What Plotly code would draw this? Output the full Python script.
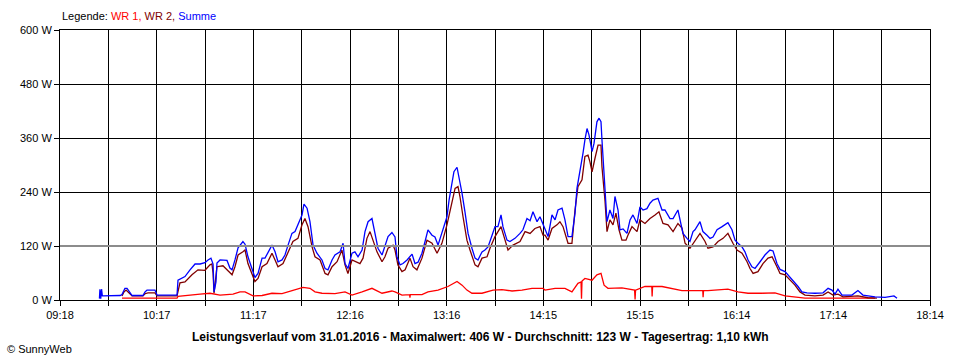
import plotly.graph_objects as go

# ---- data (time in minutes after midnight, power in W) ----
t_sum = [582.3, 582.6, 583.1, 583.6, 584.1, 584.5, 595.0, 596.2, 597.4, 598.0, 599.3, 600.5, 602.4, 609.1, 610.4, 611.6,
         616.5, 617.8, 630.1, 630.7, 633.2, 635.0, 638.1, 641.2, 644.3, 647.3, 649.2, 651.0, 652.3, 652.9, 654.1, 654.7,
         656.6, 660.9, 662.7, 664.0, 665.8, 667.7, 670.7, 672.0, 673.8, 676.3, 678.1, 680.0, 682.5, 684.3, 686.1, 688.6,
         690.5, 692.3, 694.8, 696.6, 698.5, 700.9, 702.8, 704.6, 707.1, 708.3, 710.2, 712.0, 713.9, 716.3, 719.4, 721.3,
         723.1, 725.6, 727.4, 730.5, 732.4, 733.6, 735.4, 737.9, 739.7, 741.6, 744.1, 745.9, 747.8, 750.2, 752.1, 753.9,
         756.4, 758.2, 760.1, 762.5, 764.4, 765.6, 767.5, 769.3, 771.8, 774.9, 776.7, 778.6, 781.0, 782.9, 784.7, 787.2,
         789.0, 790.9, 792.1, 794.0, 796.4, 797.7, 799.5, 800.7, 802.6, 803.8, 805.7, 807.5, 809.4, 811.8, 813.7, 815.5,
         818.0, 819.8, 821.7, 824.2, 826.0, 827.8, 829.7, 830.9, 833.4, 835.2, 838.3, 841.4, 843.2, 845.7, 847.6, 849.4,
         851.9, 853.7, 855.6, 856.8, 858.7, 861.1, 863.0, 864.8, 867.3, 869.1, 871.0, 873.4, 875.3, 876.5, 878.4, 880.2,
         881.4, 882.7, 883.9, 885.8, 887.0, 888.8, 890.1, 891.3, 891.9, 893.2, 894.4, 895.0, 896.8, 898.7, 899.9, 901.8,
         903.0, 904.9, 907.3, 909.2, 911.0, 913.5, 915.3, 917.2, 919.6, 921.5, 923.3, 926.4, 928.9, 930.7, 933.8, 935.7,
         938.7, 940.0, 941.8, 944.3, 946.1, 948.0, 949.2, 952.3, 954.1, 956.6, 958.5, 960.3, 962.8, 965.9, 969.5, 972.0,
         973.9, 975.7, 978.2, 980.0, 981.9, 984.3, 986.2, 989.3, 992.3, 995.4, 997.3, 999.7, 1001.6, 1004.7, 1006.5,
         1009.6, 1012.7, 1015.1, 1018.2, 1023.1, 1028.1, 1031.2, 1033.6, 1035.5, 1037.3, 1039.8, 1045.9, 1049.6, 1052.7,
         1060.1, 1066.3, 1071.8, 1073.7]
summe = [3, 24, 3, 24, 9, 9, 10, 12, 22, 26, 26, 20, 10, 10, 18, 22,
         22, 11, 11, 44, 49, 52, 67, 80, 80, 83, 89, 93, 80, 18, 40, 82,
         89, 88, 71, 67, 89, 116, 130, 124, 96, 67, 50, 59, 93, 93, 104, 122,
         107, 85, 89, 100, 122, 148, 152, 167, 189, 213, 204, 174, 122, 104, 89, 70,
         67, 89, 100, 107, 126, 81, 70, 104, 107, 96, 111, 152, 174, 181, 144, 115,
         100, 118, 141, 150, 140, 96, 78, 81, 89, 102, 81, 84, 104, 130, 156, 144,
         140, 122, 137, 156, 185, 222, 259, 285, 295, 274, 237, 196, 148, 115, 93, 89,
         107, 111, 118, 144, 163, 163, 189, 163, 133, 130, 137, 148, 156, 181, 176, 196,
         174, 185, 167, 159, 141, 189, 178, 200, 204, 178, 141, 141, 193, 248, 285, 326,
         356, 381, 367, 330, 348, 396, 404, 396, 356, 281, 230, 174, 200, 181, 230, 200,
         156, 158, 148, 178, 189, 170, 207, 200, 203, 215, 222, 226, 200, 200, 181, 181,
         200, 178, 148, 137, 130, 152, 156, 174, 152, 144, 137, 140, 156, 163, 172, 156,
         133, 126, 118, 107, 89, 74, 70, 85, 100, 111, 109, 81, 68, 63, 56,
         44, 30, 18, 16, 15, 16, 26, 22, 13, 24, 11, 11, 21, 11,
         7, 6, 9, 4]

t_wr2 = [596.2, 597.4, 598.7, 599.9, 602.4, 609.1, 610.4, 612.2, 616.5, 617.8, 630.1, 631.9, 635.0, 639.3, 643.0, 647.3,
         650.4, 651.6, 652.3, 652.9, 654.1, 654.7, 658.4, 661.5, 664.0, 665.8, 667.7, 670.7, 672.0, 673.8, 676.3, 678.1,
         680.0, 682.5, 685.5, 688.6, 690.5, 692.3, 695.4, 698.5, 701.5, 704.6, 707.1, 708.9, 710.8, 713.3, 715.1, 718.2,
         721.3, 723.1, 725.6, 728.7, 731.7, 733.6, 735.4, 737.9, 741.0, 742.8, 744.7, 747.1, 749.0, 750.8, 753.3, 756.4,
         758.2, 760.1, 763.2, 764.4, 766.2, 768.7, 770.6, 773.6, 775.5, 777.9, 781.0, 784.1, 787.2, 790.3, 793.3, 796.4,
         799.5, 801.4, 803.2, 804.4, 806.3, 808.7, 810.6, 813.7, 815.5, 818.0, 821.1, 822.9, 826.0, 829.7, 832.2, 834.0,
         837.1, 841.4, 844.5, 847.6, 850.6, 853.7, 855.6, 856.8, 858.7, 861.1, 864.2, 866.0, 867.9, 871.0, 873.4, 875.3,
         877.1, 879.6, 881.4, 883.3, 884.5, 885.8, 887.6, 889.5, 891.3, 891.9, 893.8, 895.0, 896.8, 898.7, 900.5, 902.4,
         904.2, 906.7, 907.9, 910.4, 913.5, 915.3, 918.4, 921.5, 924.6, 927.0, 929.5, 932.6, 935.7, 938.7, 941.2, 943.1,
         946.1, 948.0, 949.2, 952.3, 955.4, 957.2, 960.3, 963.4, 966.5, 969.5, 972.6, 975.1, 978.2, 981.3, 983.1, 985.0,
         988.0, 991.1, 994.2, 996.7, 999.7, 1001.6, 1004.7, 1007.7, 1010.8, 1013.9, 1017.0, 1023.1, 1028.1, 1031.2,
         1034.2, 1037.3, 1040.4, 1049.6, 1055.8, 1061.3]
wr2 = [9, 18, 22, 18, 9, 9, 14, 16, 16, 9, 9, 38, 40, 56, 67, 66,
       78, 80, 60, 15, 50, 74, 76, 66, 56, 74, 100, 107, 111, 81, 56, 41,
       48, 74, 81, 104, 89, 74, 81, 107, 130, 137, 167, 181, 163, 118, 96, 89,
       59, 56, 74, 85, 111, 78, 59, 89, 85, 81, 93, 137, 152, 133, 107, 85,
       96, 115, 122, 111, 78, 63, 67, 93, 74, 67, 93, 133, 126, 104, 126, 167,
       222, 248, 252, 230, 185, 133, 111, 78, 74, 93, 96, 115, 141, 163, 133, 111,
       122, 130, 152, 148, 159, 163, 144, 144, 133, 159, 167, 174, 163, 126, 126, 200,
       252, 267, 319, 322, 307, 285, 315, 344, 344, 296, 219, 152, 178, 167, 193, 156,
       133, 133, 144, 163, 152, 178, 170, 181, 189, 196, 170, 167, 152, 170, 160, 126,
       115, 126, 133, 148, 130, 115, 118, 130, 137, 148, 126, 111, 104, 85, 70, 59,
       63, 81, 93, 96, 74, 59, 56, 44, 33, 18, 11, 9, 11, 18,
       11, 13, 7, 9, 5, 4]

t_wr1 = [596.2, 630.1, 630.7, 638.1, 644.3, 650.4, 656.6, 664.6, 668.9, 672.0, 676.9, 682.5, 688.6, 694.8, 700.9, 707.7,
         712.0, 715.1, 719.4, 727.4, 733.6, 737.9, 744.1, 750.2, 756.4, 762.5, 764.4, 768.7, 773.4, 773.6, 773.8, 774.9,
         781.0, 784.7, 790.9, 797.0, 802.6, 805.7, 808.7, 811.8, 818.0, 824.8, 830.3, 836.5, 842.6, 848.8, 855.6, 856.8,
         863.0, 869.1, 873.4, 877.1, 879.0, 879.3, 879.6, 881.4, 885.8, 888.8, 891.3, 893.2, 895.6, 904.2, 912.0, 912.3,
         912.6, 918.4, 922.6, 922.8, 923.1, 928.9, 935.0, 941.2, 948.0, 954.0, 954.2, 954.5, 957.2, 969.5, 975.7, 981.9,
         990.5, 998.5, 1004.7, 1010.8, 1017.0, 1060.1]
wr1 = [4, 4, 8, 10, 13, 15, 11, 13, 18, 18, 9, 10, 15, 14, 21, 28,
       26, 18, 15, 14, 18, 11, 18, 26, 15, 20, 18, 11, 12, 5, 12, 12,
       12, 18, 22, 30, 41, 33, 22, 15, 15, 22, 23, 20, 22, 26, 26, 22,
       26, 26, 18, 37, 40, 3, 42, 48, 44, 56, 59, 33, 26, 27, 22, 1,
       22, 30, 30, 8, 30, 30, 26, 21, 21, 21, 6, 21, 21, 24, 18, 15,
       15, 16, 9, 7, 4, 4]

x_labels = ["09:18", "10:17", "11:17", "12:16", "13:16", "14:15", "15:15", "16:14", "17:14", "18:14"]
y_values = [0, 120, 240, 360, 480, 600]

# ---- figure ----
X0, X1 = 558, 1094  # 09:18 .. 18:14 in minutes
n_major = len(x_labels) - 1
tickvals = [X0 + k * (X1 - X0) / (2 * n_major) for k in range(2 * n_major + 1)]
ticktext = [x_labels[k // 2] if k % 2 == 0 else "" for k in range(2 * n_major + 1)]

fig = go.Figure()
line_w = 1.3
fig.add_trace(go.Scatter(x=t_wr1, y=wr1, mode="lines", name="WR 1",
                         line=dict(color="#ff0000", width=line_w)))
fig.add_trace(go.Scatter(x=t_wr2, y=wr2, mode="lines", name="WR 2",
                         line=dict(color="#800000", width=line_w)))
fig.add_trace(go.Scatter(x=t_sum, y=summe, mode="lines", name="Summe",
                         line=dict(color="#0000ff", width=line_w)))

font_family = "Liberation Sans, Arial, sans-serif"
fig.update_layout(
    width=960, height=360,
    margin=dict(l=60, r=30, t=30, b=60),
    paper_bgcolor="white", plot_bgcolor="white",
    showlegend=False,
    font=dict(family=font_family, size=11, color="black"),
    xaxis=dict(range=[X0, X1], tickmode="array", tickvals=tickvals, ticktext=ticktext,
               showgrid=True, gridcolor="black", gridwidth=1,
               showline=True, linecolor="black", linewidth=1, mirror=True,
               ticks="outside", ticklen=5, tickcolor="black", zeroline=False,
               tickfont=dict(size=11)),
    yaxis=dict(range=[0, 600], tickmode="array", tickvals=y_values,
               ticktext=[f"{v} W" for v in y_values],
               showgrid=True, gridcolor="black", gridwidth=1,
               showline=True, linecolor="black", linewidth=1, mirror=True,
               ticks="outside", ticklen=5, tickcolor="black", zeroline=False,
               tickfont=dict(size=11)),
)

fig.add_shape(type="line", xref="paper", yref="y", x0=0, x1=1, y0=120, y1=120,
              line=dict(color="#8c8c8c", width=2), layer="above")

fig.add_annotation(xref="paper", yref="paper", x=0, y=1 + 14 / 270, xanchor="left", yanchor="middle",
                   showarrow=False, font=dict(size=11),
                   text='Legende: <span style="color:#ff0000">WR 1, </span>'
                        '<span style="color:#800000">WR 2, </span>'
                        '<span style="color:#0000ff">Summe</span>')
fig.add_annotation(xref="paper", yref="paper", x=(480 - 60) / 870, y=-37 / 270, xanchor="center", yanchor="middle",
                   showarrow=False, font=dict(size=12),
                   text="<b>Leistungsverlauf vom 31.01.2016 - Maximalwert: 406 W - Durchschnitt: 123 W - "
                        "Tagesertrag: 1,10 kWh</b>")
fig.add_annotation(xref="paper", yref="paper", x=(5 - 60) / 870, y=-49 / 270, xanchor="left", yanchor="middle",
                   showarrow=False, font=dict(size=11), text="© SunnyWeb")

fig.write_html("out.html", config={"displayModeBar": False},
               post_script="document.body.style.margin='0';")
